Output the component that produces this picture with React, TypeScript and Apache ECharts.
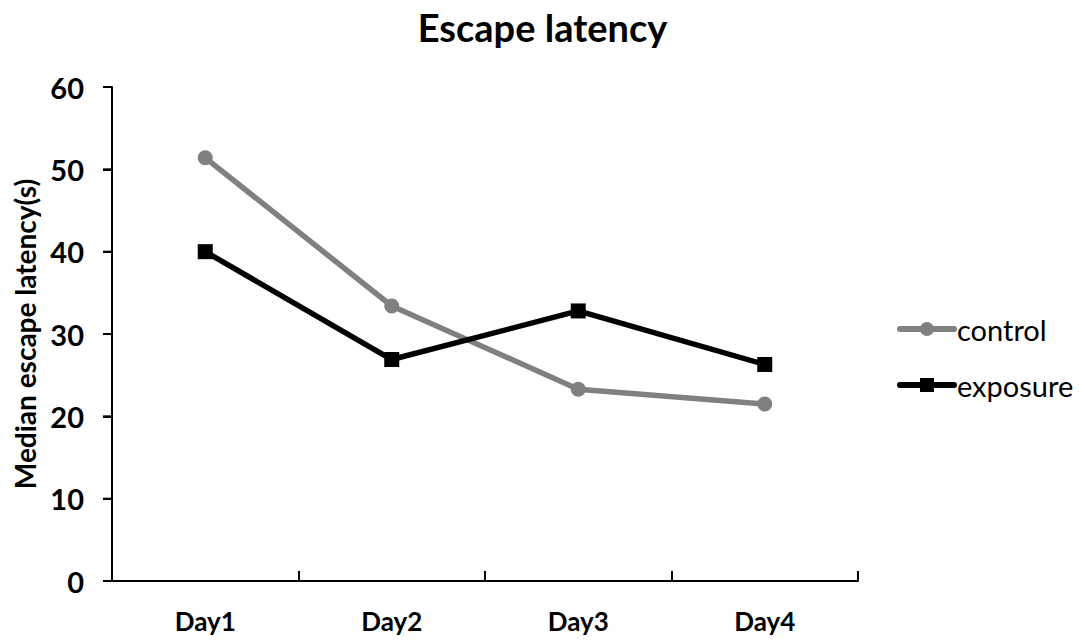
import React, { useEffect, useRef } from "react";
import * as echarts from "echarts";

const categories = ["Day1", "Day2", "Day3", "Day4"];
const controlValues = [51.4, 33.4, 23.3, 21.5];
const exposureValues = [40.0, 26.9, 32.8, 26.3];
const yTicks = { min: 0, max: 60, interval: 10 };
const yTickValues = [0, 10, 20, 30, 40, 50, 60];
const seriesNames = ["control", "exposure"];
const seriesColors = ["#808080", "#000000"];

const FONT = "Lato, 'Open Sans', sans-serif";

export default function App() {
  const ref = useRef<HTMLDivElement>(null);
  useEffect(() => {
    if (!ref.current) return;
    const chart = echarts.init(ref.current, null, { renderer: "svg" });

    const legendItems: any[] = [];
    const legendX = 900;
    const legendY = [329, 385];
    seriesNames.forEach((name, i) => {
      const y = legendY[i];
      const c = seriesColors[i];
      legendItems.push({
        type: "line",
        shape: { x1: legendX, y1: y, x2: legendX + 54, y2: y },
        style: { stroke: c, lineWidth: 6, lineCap: "round" },
      });
      if (i === 0) {
        legendItems.push({ type: "circle", shape: { cx: legendX + 27, cy: y, r: 7 }, style: { fill: c } });
      } else {
        legendItems.push({ type: "rect", shape: { x: legendX + 20, y: y - 7, width: 14, height: 14 }, style: { fill: c } });
      }
      legendItems.push({
        type: "text",
        x: legendX + 57,
        y: y,
        style: { text: name, fontFamily: FONT, fontSize: 29, fill: "#000", verticalAlign: "middle", align: "left" },
      });
    });

    chart.setOption({
      animation: false,
      backgroundColor: "#ffffff",
      title: {
        text: "Escape latency",
        left: "center",
        top: 3,
        textStyle: { fontFamily: FONT, fontWeight: "bold", fontSize: 38, color: "#000" },
      },
      graphic: legendItems,
      grid: { left: 112, top: 87, right: 227, bottom: 62, containLabel: false, outerBoundsMode: "none" },
      xAxis: {
        type: "category",
        data: categories,
        boundaryGap: true,
        axisLine: { lineStyle: { color: "#000", width: 2 } },
        axisTick: { show: true, inside: true, length: 10, lineStyle: { color: "#000", width: 2 } },
        axisLabel: { fontFamily: FONT, fontWeight: "bold", fontSize: 26, color: "#000", margin: 27 },
      },
      yAxis: {
        type: "value",
        min: yTicks.min,
        max: yTicks.max,
        interval: yTicks.interval,
        name: "Median escape latency(s)",
        nameLocation: "middle",
        nameGap: 73,
        nameTextStyle: { fontFamily: FONT, fontWeight: "bold", fontSize: 28, color: "#000" },
        splitLine: { show: false },
        axisLine: { show: true, lineStyle: { color: "#000", width: 2 } },
        axisTick: { show: true, inside: false, length: 9, lineStyle: { color: "#000", width: 2 } },
        axisLabel: { fontFamily: FONT, fontWeight: "bold", fontSize: 29, color: "#000", margin: 28 },
      },
      series: [
        {
          type: "custom",
          silent: true,
          clip: false,
          z: 5,
          data: yTickValues.map((v) => [0, v]),
          encode: { x: 0, y: 1 },
          renderItem: (params: any, api: any) => {
            const pt = api.coord([api.value(0), api.value(1)]);
            const x = params.coordSys.x;
            return {
              type: "line",
              shape: { x1: x - 9, y1: pt[1], x2: x, y2: pt[1] },
              style: { stroke: "#000", lineWidth: 2 },
            };
          },
        },
        {
          name: seriesNames[0],
          type: "line",
          data: controlValues,
          symbol: "circle",
          symbolSize: 15,
          color: seriesColors[0],
          lineStyle: { color: seriesColors[0], width: 5.5 },
          itemStyle: { color: seriesColors[0] },
        },
        {
          name: seriesNames[1],
          type: "line",
          data: exposureValues,
          symbol: "rect",
          symbolSize: 15,
          color: seriesColors[1],
          lineStyle: { color: seriesColors[1], width: 5.5 },
          itemStyle: { color: seriesColors[1] },
        },
      ],
    });
    return () => chart.dispose();
  }, []);
  return <div ref={ref} style={{ width: 1085, height: 643, margin: -8 }} />;
}
